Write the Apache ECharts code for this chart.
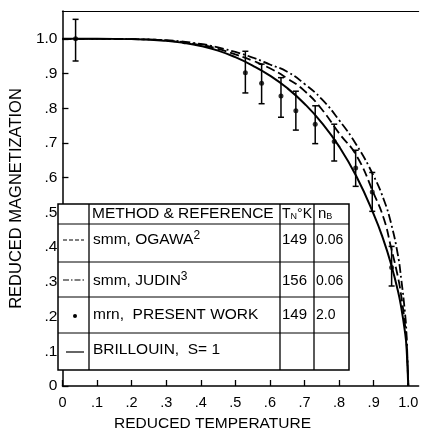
<!DOCTYPE html>
<html>
<head>
<meta charset="utf-8">
<script src="https://cdn.jsdelivr.net/npm/echarts@6/dist/echarts.min.js"></script>
<style>
html, body { margin: 0; padding: 0; background: #fff; }
#chart { width: 421px; height: 437px; }
</style>
</head>
<body>
<div id="chart"></div>
<script>
// axis ticks and their printed labels
const xTicks = [0, 0.1, 0.2, 0.3, 0.4, 0.5, 0.6, 0.7, 0.8, 0.9, 1.0];
const xTickLabels = ['0', '.1', '.2', '.3', '.4', '.5', '.6', '.7', '.8', '.9', '1.0'];
const yTicks = [0, 0.1, 0.2, 0.3, 0.4, 0.5, 0.6, 0.7, 0.8, 0.9, 1.0];
const yTickLabels = ['0', '.1', '.2', '.3', '.4', '.5', '.6', '.7', '.8', '.9', '1.0'];

// Brillouin S=1 (solid)
const brillouinT = [0, 0.1, 0.2, 0.3, 0.35, 0.4, 0.45, 0.5, 0.55, 0.6, 0.65, 0.7, 0.75, 0.8, 0.85, 0.9, 0.93, 0.95, 0.97, 0.98, 0.99, 0.995, 1.0];
const brillouinM = [1.0, 1.0, 0.999, 0.994, 0.988, 0.979, 0.966, 0.947, 0.923, 0.894, 0.858, 0.813, 0.758, 0.690, 0.604, 0.495, 0.416, 0.352, 0.275, 0.225, 0.160, 0.113, 0];

// smm, Ogawa (dashed)
const ogawaT = [0, 0.1, 0.2, 0.3, 0.4, 0.45, 0.5, 0.55, 0.6, 0.65, 0.7, 0.75, 0.8, 0.85, 0.9, 0.93, 0.95, 0.97, 0.98, 0.99, 0.995, 1.0];
const ogawaM = [1.0, 1.0, 0.999, 0.995, 0.982, 0.971, 0.955, 0.937, 0.915, 0.886, 0.850, 0.797, 0.728, 0.664, 0.555, 0.480, 0.400, 0.315, 0.258, 0.182, 0.130, 0];

// smm, Judin (dash-dot)
const judinT = [0, 0.1, 0.2, 0.3, 0.4, 0.45, 0.5, 0.55, 0.6, 0.65, 0.7, 0.75, 0.8, 0.85, 0.9, 0.93, 0.95, 0.97, 0.98, 0.99, 0.995, 1.0];
const judinM = [1.0, 1.0, 0.999, 0.996, 0.985, 0.975, 0.962, 0.946, 0.926, 0.905, 0.870, 0.826, 0.766, 0.695, 0.605, 0.535, 0.470, 0.378, 0.306, 0.217, 0.150, 0];

// mrn, present work (points with error bars)
const pointT  = [0.038, 0.529, 0.576, 0.632, 0.675, 0.731, 0.786, 0.848, 0.896, 0.952];
const pointM  = [1.000, 0.902, 0.872, 0.835, 0.793, 0.754, 0.704, 0.628, 0.559, 0.341];
const pointLo = [0.936, 0.844, 0.813, 0.774, 0.737, 0.698, 0.648, 0.575, 0.503, 0.288];
const pointHi = [1.056, 0.964, 0.927, 0.888, 0.849, 0.807, 0.754, 0.679, 0.615, 0.402];

// table contents
const tableHeader = ['METHOD & REFERENCE', 'T{sub|N}°K', 'n{sub|B}'];
const tableRefs = ['smm, OGAWA{sup|2}', 'smm, JUDIN{sup|3}', 'mrn,  PRESENT WORK', 'BRILLOUIN,  S= 1'];
const tableTn = ['149', '156', '149', ''];
const tableNb = ['0.06', '0.06', '2.0', ''];

const FONT = 'Liberation Sans';
const pairs = (a, b) => a.map((v, i) => [v, b[i]]);
const tickFmt = (ticks, labels) => v => {
  const i = ticks.findIndex(t => Math.abs(t - v) < 1e-6);
  return i < 0 ? '' : labels[i];
};

const rich = {
  sub: { fontSize: 9, fontFamily: FONT, verticalAlign: 'bottom', padding: [6, 0, 0, 0] },
  sup: { fontSize: 12, fontFamily: FONT, verticalAlign: 'top', padding: [0, 0, 8, 0] }
};

// table layout (pixels)
const tL = 58, tR = 349, tT = 204, tB = 370;
const cols = [89, 280, 314];
const rowLines = [224, 262, 297, 333];
const rowMid = [240, 281, 315, 350];

const table = [];
table.push({ type: 'rect', shape: { x: tL, y: tT, width: tR - tL, height: tB - tT },
  style: { fill: '#fff', stroke: '#000', lineWidth: 1.5 }, z: 10 });
rowLines.forEach(y => table.push({ type: 'line', shape: { x1: tL, y1: y, x2: tR, y2: y },
  style: { stroke: '#000', lineWidth: 1 }, z: 11 }));
cols.forEach(x => table.push({ type: 'line', shape: { x1: x, y1: tT, x2: x, y2: tB },
  style: { stroke: '#000', lineWidth: 1.3 }, z: 11 }));
const txt = (x, y, text, size) => ({ type: 'text', x: x, y: y, z: 12,
  style: { text: text, fontFamily: FONT, fontSize: size, fill: '#000', verticalAlign: 'middle', rich: rich } });
table.push(txt(92, 214, tableHeader[0], 15.5));
table.push(txt(282, 214, tableHeader[1], 14));
table.push(txt(318, 214, tableHeader[2], 15));
tableRefs.forEach((r, i) => {
  table.push(txt(93, rowMid[i], r, 15.5));
  table.push(txt(282, rowMid[i], tableTn[i], 15));
  table.push(txt(316, rowMid[i], tableNb[i], 14));
});
// legend symbols
table.push({ type: 'line', shape: { x1: 63, y1: 240, x2: 84, y2: 240 }, z: 12,
  style: { stroke: '#000', lineWidth: 1.2, lineDash: [4, 2] } });
table.push({ type: 'line', shape: { x1: 63, y1: 280, x2: 84, y2: 280 }, z: 12,
  style: { stroke: '#000', lineWidth: 1.2, lineDash: [6, 2, 1.5, 2] } });
table.push({ type: 'circle', shape: { cx: 75, cy: 316, r: 2 }, z: 12, style: { fill: '#000' } });
table.push({ type: 'line', shape: { x1: 66, y1: 352, x2: 84, y2: 352 }, z: 12,
  style: { stroke: '#000', lineWidth: 1.2 } });

const chart = echarts.init(document.getElementById('chart'));
chart.setOption({
  animation: false,
  backgroundColor: '#fff',
  grid: { left: 52, right: 2, top: 11, bottom: 39, containLabel: false },
  xAxis: [{
    type: 'value', min: 0, max: 1.03,
    name: 'REDUCED TEMPERATURE', nameLocation: 'middle', nameGap: 30,
    nameTextStyle: { fontFamily: FONT, fontSize: 15.5, color: '#000', padding: [0, 56, 0, 0] },
    axisLine: { lineStyle: { color: '#000', width: 1.5 } },
    axisTick: { inside: true, length: 6, customValues: xTicks, lineStyle: { color: '#000', width: 1.3 } },
    axisLabel: { customValues: xTicks, formatter: tickFmt(xTicks, xTickLabels), margin: 9,
      fontFamily: FONT, fontSize: 14.5, color: '#000' },
    splitLine: { show: false }
  }, {
    type: 'value', position: 'top', min: 0, max: 1.03,
    axisLine: { show: true, lineStyle: { color: '#000', width: 1.2 } },
    axisTick: { show: false }, axisLabel: { show: false }, splitLine: { show: false }
  }],
  yAxis: {
    type: 'value', min: 0, max: 1.08,
    name: 'REDUCED MAGNETIZATION', nameLocation: 'middle', nameGap: 21,
    nameTextStyle: { fontFamily: FONT, fontSize: 16.5, color: '#000' },
    axisLine: { show: true, lineStyle: { color: '#000', width: 1.5 } },
    axisTick: { show: true, inside: true, length: 6, customValues: yTicks, lineStyle: { color: '#000', width: 1.3 } },
    axisLabel: { customValues: yTicks, formatter: tickFmt(yTicks, yTickLabels), margin: 5,
      fontFamily: FONT, fontSize: 15.5, color: '#000' },
    splitLine: { show: false }
  },
  graphic: table,
  series: [
    { type: 'line', name: 'Brillouin', data: pairs(brillouinT, brillouinM), smooth: 0.5,
      showSymbol: false, lineStyle: { color: '#000', width: 2 } },
    { type: 'line', name: 'Ogawa', data: pairs(ogawaT, ogawaM), smooth: 0.5,
      showSymbol: false, lineStyle: { color: '#000', width: 1.8, type: [9, 4] } },
    { type: 'line', name: 'Judin', data: pairs(judinT, judinM), smooth: 0.5,
      showSymbol: false, lineStyle: { color: '#000', width: 1.8, type: [9, 3, 2, 3] } },
    { type: 'custom', name: 'errors', data: pointT.map((t, i) => [t, pointLo[i], pointHi[i]]),
      encode: { x: 0, y: [1, 2] },
      renderItem: (params, api) => {
        const x = api.value(0);
        const lo = api.coord([x, api.value(1)]);
        const hi = api.coord([x, api.value(2)]);
        const s = { stroke: '#000', lineWidth: 1.5 };
        return { type: 'group', children: [
          { type: 'line', shape: { x1: lo[0], y1: lo[1], x2: hi[0], y2: hi[1] }, style: s },
          { type: 'line', shape: { x1: lo[0] - 3, y1: lo[1], x2: lo[0] + 3, y2: lo[1] }, style: s },
          { type: 'line', shape: { x1: hi[0] - 3, y1: hi[1], x2: hi[0] + 3, y2: hi[1] }, style: s }
        ] };
      } },
    { type: 'scatter', name: 'present work', data: pairs(pointT, pointM), symbolSize: 5,
      itemStyle: { color: '#000' } }
  ]
});
</script>
</body>
</html>
